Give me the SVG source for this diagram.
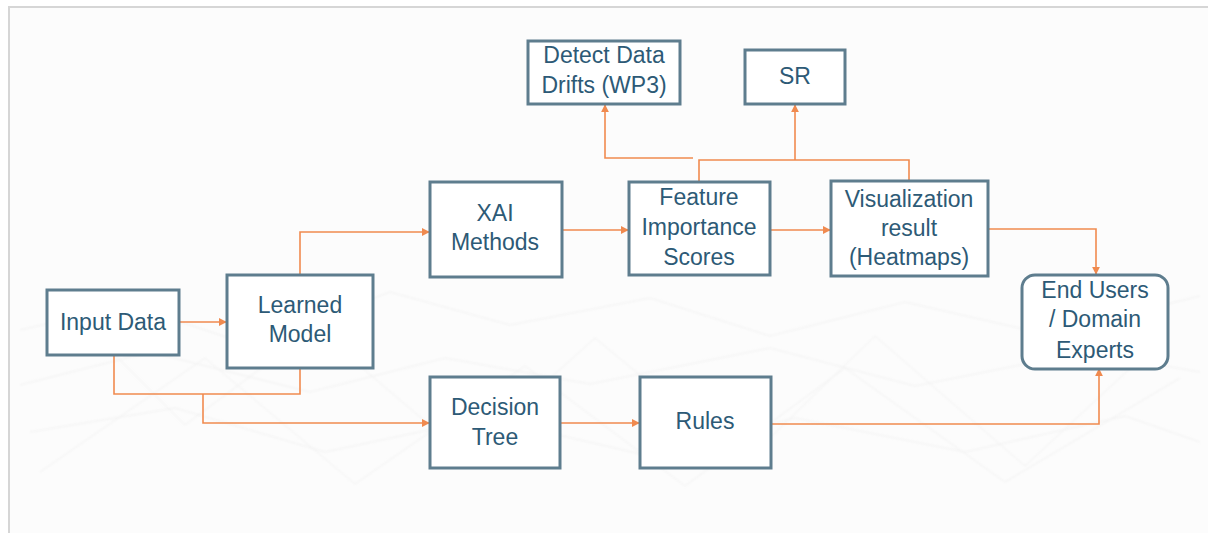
<svg xmlns="http://www.w3.org/2000/svg" width="1208" height="533" viewBox="0 0 1208 533">
  <style>
    .box { fill: #ffffff; stroke: #5e7d8e; stroke-width: 3; }
    .lbl { font-family: "Liberation Sans", Arial, sans-serif; font-size: 23px; fill: #2d5a76; text-anchor: middle; }
    .wire { fill: none; stroke: #f08a4f; stroke-width: 1.6; }
    .net { fill: none; stroke: #e8e8e8; stroke-width: 1; opacity: 0.6; }
  </style>
  <defs>
    <marker id="arrow" viewBox="0 0 10 10" refX="9" refY="5" markerWidth="8" markerHeight="8" markerUnits="userSpaceOnUse" orient="auto">
      <path d="M0,0 L10,5 L0,10 z" fill="#f08a4f"/>
    </marker>
    <filter id="soft"><feGaussianBlur stdDeviation="1"/></filter>
  </defs>

  <!-- panel -->
  <rect x="0" y="0" width="1208" height="533" fill="#ffffff"/>
  <rect x="9" y="7" width="1210" height="540" fill="#fcfcfc" stroke="#d6d6d6" stroke-width="2"/>

  <!-- faint network texture -->
  <g class="net" filter="url(#soft)">
    <polyline points="20,330 130,305 250,345 390,292 510,325 650,298 770,336 905,302 1045,334 1200,296"/>
    <polyline points="20,385 150,352 310,392 445,358 590,384 770,348 915,386 1085,352 1200,372"/>
    <polyline points="30,432 175,408 325,452 485,418 645,455 795,418 965,452 1125,416 1200,442"/>
    <polyline points="60,300 185,425 315,328 465,455 595,338 745,462 875,336 1025,466 1165,336"/>
    <polyline points="40,472 205,358 355,484 525,366 685,486 845,368 1005,482 1180,378"/>
  </g>

  <!-- connectors -->
  <g id="connectors">
    <line class="wire" x1="180" y1="322" x2="226" y2="322" marker-end="url(#arrow)"/>
    <polyline class="wire" points="300,274 300,232 429,232" marker-end="url(#arrow)"/>
    <line class="wire" x1="563" y1="230" x2="628" y2="230" marker-end="url(#arrow)"/>
    <line class="wire" x1="771" y1="230" x2="830" y2="230" marker-end="url(#arrow)"/>
    <polyline class="wire" points="699,181 699,160 909,160 909,181"/>
    <line class="wire" x1="795" y1="160" x2="795" y2="105" marker-end="url(#arrow)"/>
    <polyline class="wire" points="693,158 605,158 605,105" marker-end="url(#arrow)"/>
    <polyline class="wire" points="989,229 1096,229 1096,274" marker-end="url(#arrow)"/>
    <polyline class="wire" points="772,424 1099,424 1099,369" marker-end="url(#arrow)"/>
    <polyline class="wire" points="114,356 114,394 300,394 300,369"/>
    <polyline class="wire" points="203,394 203,423 429,423" marker-end="url(#arrow)"/>
    <line class="wire" x1="561" y1="423" x2="639" y2="423" marker-end="url(#arrow)"/>
  </g>

  <!-- nodes -->
  <g id="input-data">
    <rect class="box" x="47" y="290" width="132" height="65"/>
    <text class="lbl" x="113" y="330">Input Data</text>
  </g>
  <g id="learned-model">
    <rect class="box" x="227" y="275" width="146" height="93"/>
    <text class="lbl" x="300" y="313">Learned</text>
    <text class="lbl" x="300" y="342">Model</text>
  </g>
  <g id="xai-methods">
    <rect class="box" x="430" y="182" width="132" height="95"/>
    <text class="lbl" x="495" y="221">XAI</text>
    <text class="lbl" x="495" y="250">Methods</text>
  </g>
  <g id="decision-tree">
    <rect class="box" x="430" y="377" width="130" height="91"/>
    <text class="lbl" x="495" y="415">Decision</text>
    <text class="lbl" x="495" y="445">Tree</text>
  </g>
  <g id="rules">
    <rect class="box" x="640" y="377" width="131" height="91"/>
    <text class="lbl" x="705" y="429">Rules</text>
  </g>
  <g id="feature-importance">
    <rect class="box" x="629" y="182" width="141" height="93"/>
    <text class="lbl" x="699" y="205">Feature</text>
    <text class="lbl" x="699" y="235">Importance</text>
    <text class="lbl" x="699" y="265">Scores</text>
  </g>
  <g id="visualization">
    <rect class="box" x="831" y="181" width="157" height="95"/>
    <text class="lbl" x="909" y="207">Visualization</text>
    <text class="lbl" x="909" y="236">result</text>
    <text class="lbl" x="909" y="265">(Heatmaps)</text>
  </g>
  <g id="detect-drifts">
    <rect class="box" x="528" y="41" width="152" height="63"/>
    <text class="lbl" x="604" y="63">Detect Data</text>
    <text class="lbl" x="604" y="93">Drifts (WP3)</text>
  </g>
  <g id="sr">
    <rect class="box" x="745" y="50" width="100" height="54"/>
    <text class="lbl" x="795" y="84">SR</text>
  </g>
  <g id="end-users">
    <rect class="box" x="1022" y="275" width="146" height="94" rx="13" ry="13"/>
    <text class="lbl" x="1095" y="298">End Users</text>
    <text class="lbl" x="1095" y="327">/ Domain</text>
    <text class="lbl" x="1095" y="358">Experts</text>
  </g>
</svg>
